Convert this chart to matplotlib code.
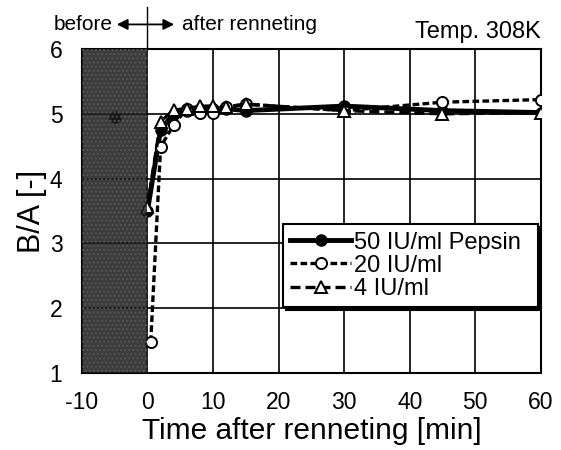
import numpy as np
import matplotlib.pyplot as plt

plt.rcParams['font.family'] = ['Liberation Sans', 'DejaVu Sans']
plt.rcParams['axes.unicode_minus'] = False

# data
t_50 = [0, 2, 4, 6, 8, 10, 12, 15, 30, 45, 60]
ba_50 = [3.5, 4.75, 5.0, 5.05, 5.08, 5.08, 5.08, 5.05, 5.12, 5.05, 5.02]
t_20 = [0.5, 2, 4, 6, 8, 10, 12, 15, 30, 45, 60]
ba_20 = [1.48, 4.49, 4.83, 5.08, 5.02, 5.02, 5.11, 5.15, 5.05, 5.18, 5.22]
t_4 = [0, 2, 4, 6, 8, 10, 12, 15, 30, 45, 60]
ba_4 = [3.57, 4.88, 5.06, 5.08, 5.12, 5.12, 5.10, 5.15, 5.05, 5.00, 5.02]
t_before = [-5]
ba_before = [4.95]

fig = plt.figure(figsize=(5.61, 4.5), dpi=100)
ax = fig.add_axes([0.146, 0.171, 0.818, 0.72])

ax.plot(t_20, ba_20, color='black', lw=2.4, ls=(0, (2, 1)), marker='o', ms=8,
        mfc='white', mec='black', mew=1.4, label='20 IU/ml', zorder=3)
ax.plot(t_4, ba_4, color='black', lw=2.4, ls=(0, (3, 1.5)), marker='^', ms=8,
        mfc='white', mec='black', mew=1.4, label='4 IU/ml', zorder=4)
ax.plot(t_50, ba_50, color='black', lw=3.5, marker='o', ms=8,
        label='50 IU/ml Pepsin', zorder=2)
ax.plot(t_before, ba_before, 'o', color='black', ms=8, zorder=2)

# shaded "before" region
ax.axvspan(-10, 0, facecolor='#1c1c1c', alpha=0.86, lw=0, zorder=5)
ax.axvspan(-10, 0, facecolor='none', edgecolor='#555555', hatch='....',
           lw=0, zorder=5)

ax.set_xlim(-10, 60)
ax.set_ylim(1, 6)
ax.set_xticks(np.arange(-10, 61, 10))
ax.set_yticks(np.arange(1, 7, 1))
ax.grid(True, color='black', lw=1.2)
ax.set_axisbelow(True)
for s in ax.spines.values():
    s.set_linewidth(1.5)
ax.tick_params(length=0, labelsize=16.5)
ax.tick_params(axis='y', pad=14)
ax.tick_params(axis='x', pad=13)

ax.set_xlabel('Time after renneting [min]', fontsize=21.5, labelpad=2)
ax.set_ylabel('B/A [-]', fontsize=22, labelpad=2)

# annotations above the plot
ax.plot([0, 0], [6, 6.65], color='black', lw=1, clip_on=False)
ax.annotate('', xy=(-5.1, 6.38), xytext=(4.5, 6.38), xycoords='data',
            arrowprops=dict(arrowstyle='<|-|>', color='black', lw=1.3,
                            mutation_scale=16), annotation_clip=False)
ax.text(-5.3, 6.38, 'before', ha='right', va='center', fontsize=15)
ax.text(5.3, 6.38, 'after renneting', ha='left', va='center', fontsize=15)
ax.text(60, 6.26, 'Temp. 308K', ha='right', va='center', fontsize=17)

handles, labels = ax.get_legend_handles_labels()
order = [2, 0, 1]
leg = ax.legend([handles[i] for i in order], [labels[i] for i in order],
                loc='lower left', bbox_to_anchor=(0.438, 0.204, 0.555, 0.299),
                mode='expand', fontsize=17, handlelength=2.6, handletextpad=0.1,
                borderpad=0.3, labelspacing=0.05, borderaxespad=0,
                fancybox=False, shadow={'color': 'black', 'alpha': 1},
                framealpha=1, edgecolor='black')
leg.get_frame().set_linewidth(1.5)
leg.set_zorder(6)

fig.savefig('out.png', dpi=100)
